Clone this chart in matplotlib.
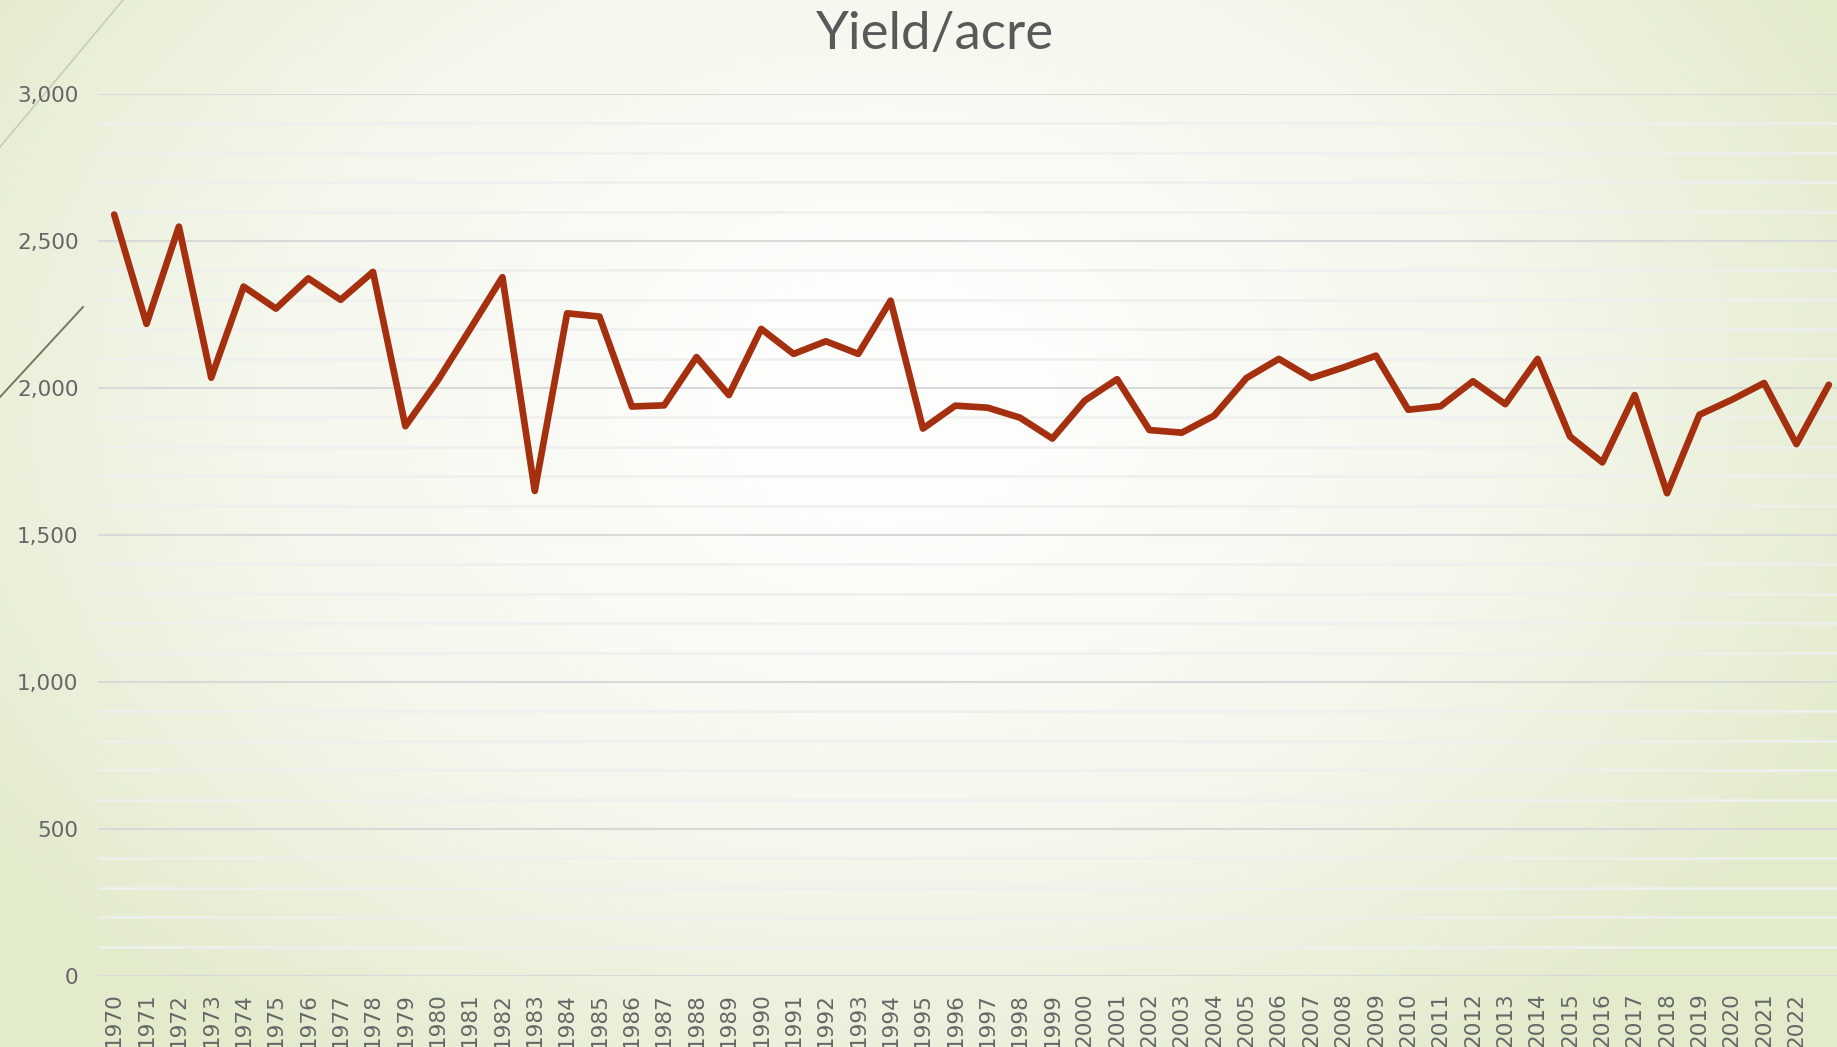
import numpy as np
import matplotlib.pyplot as plt
from matplotlib.colors import LinearSegmentedColormap

years = [str(y) for y in range(1970, 2024)]
yield_acre = [2590, 2218, 2549, 2035, 2345, 2270, 2373, 2300, 2395, 1870,
              2025, 2200, 2377, 1650, 2254, 2243, 1937, 1941, 2105, 1976,
              2201, 2116, 2159, 2116, 2297, 1862, 1940, 1933, 1899, 1828,
              1957, 2030, 1857, 1848, 1906, 2034, 2099, 2034, 2070, 2110,
              1926, 1938, 2023, 1945, 2099, 1835, 1747, 1976, 1642, 1909,
              1960, 2017, 1809, 2011]
y_ticks = [0, 500, 1000, 1500, 2000, 2500, 3000]
# last year's label falls off the slide in the original
x_labels = years[:-1] + ['']

W, H = 1837, 1047
fig = plt.figure(figsize=(W / 100, H / 100), dpi=100)

# background: white centre fading to pale green at the edges
bg = fig.add_axes([0, 0, 1, 1], zorder=0)
gx, gy = np.meshgrid(np.linspace(0, 1, 400), np.linspace(0, 1, 300))
r = np.sqrt(((gx - 0.48) / 0.62) ** 2 + ((gy - 0.62) / 0.8) ** 2)
r = np.clip((r - 0.15) / 0.8, 0, 1)
cmap = LinearSegmentedColormap.from_list('bg', ['#fdfdfb', '#f4f7ec', '#e3ebcd'])
bg.imshow(r, cmap=cmap, extent=[0, 1, 0, 1], origin='lower', aspect='auto', vmin=0, vmax=1)
# decorative diagonal strokes top-left
bg.plot([0, 123 / W], [1 - 147 / H, 1], color='#c9cbbb', lw=1.2)
bg.plot([0, 83 / W], [1 - 397 / H, 1 - 307 / H], color='#7a7560', lw=1.4)
bg.set_xlim(0, 1)
bg.set_ylim(0, 1)
bg.axis('off')

ax = fig.add_axes([98 / W, 71 / H, (1845 - 98) / W, (976 - 94) / H], zorder=1)
ax.patch.set_alpha(0)
x = np.arange(len(years))
ax.plot(x, yield_acre, color='#a5300f', lw=4.8, solid_joinstyle='round',
        solid_capstyle='round', zorder=3, clip_on=False)

ax.set_xlim(-0.5, len(years) - 0.5)
ax.set_ylim(0, 3000)
ax.set_yticks(y_ticks)
ax.set_yticklabels([f'{v:,}' for v in y_ticks])
ax.set_yticks(np.arange(0, 3001, 100), minor=True)
ax.set_xticks(x)
ax.set_xticklabels(x_labels, rotation=90)
ax.grid(True, axis='y', which='major', color='#d9d9d9', lw=1.5)
ax.grid(True, axis='y', which='minor', color='#efefef', lw=1.8)
ax.set_axisbelow(True)
for s in ax.spines.values():
    s.set_visible(False)
ax.tick_params(axis='both', which='both', length=0, colors='#666666', labelsize=15.5)
ax.tick_params(axis='y', pad=14)
ax.tick_params(axis='x', pad=12)

fig.text(0.509, 1 - 34 / H, 'Yield/acre', ha='center', va='center',
         fontsize=38, color='#595959', family='Lato')

fig.savefig('out.png', dpi=100)
